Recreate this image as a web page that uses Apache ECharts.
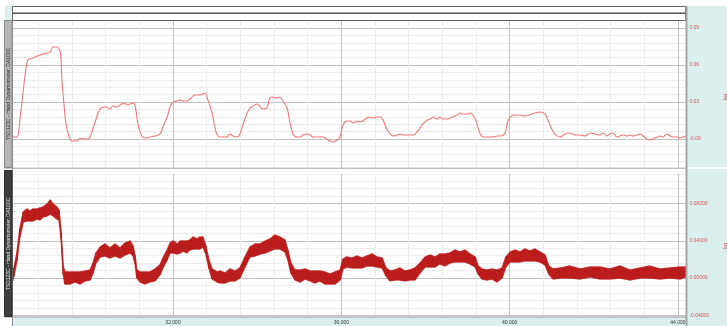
<!DOCTYPE html>
<html>
<head>
<meta charset="utf-8">
<script src="https://cdn.jsdelivr.net/npm/echarts@6/dist/echarts.min.js"></script>
<style>
  html, body { margin: 0; padding: 0; background: #ffffff; }
  #chart { width: 727px; height: 326px; }
</style>
</head>
<body>
<div id="chart"></div>
<script>
// Channel captions and unit
const channelName = 'TSD123C - Hand Dynamometer, DA100C';
const unitName = 'kg';

// Upper channel: smoothed grip force (time in s, value)
const time1 = [28.18,28.29,28.36,28.48,28.55,28.67,28.84,29.01,29.08,29.15,
  29.24,29.32,29.36,29.41,29.46,29.55,29.60,29.72,29.79,29.86,
  29.96,30.03,30.10,30.15,30.22,30.29,30.41,30.50,30.57,30.67,
  30.74,30.84,30.91,30.98,31.05,31.10,31.17,31.26,31.33,31.45,
  31.57,31.69,31.76,31.86,31.93,
  32.00,32.10,32.17,32.24,32.33,32.40,32.52,32.64,32.76,32.83,
  32.93,33.00,33.07,33.19,33.28,33.35,33.43,33.52,33.59,33.66,
  33.76,33.83,33.90,34.00,34.07,34.14,34.23,34.30,34.38,34.47,
  34.54,34.61,34.71,34.78,34.85,34.95,35.02,35.09,35.18,35.26,
  35.33,35.42,35.49,35.56,35.66,35.73,35.80,35.90,35.97,
  36.04,36.13,36.21,36.28,36.37,36.44,36.51,36.61,36.68,36.75,
  36.85,36.92,36.99,37.08,37.16,37.23,37.32,37.39,37.46,37.56,
  37.63,37.70,37.80,37.87,37.94,38.04,38.11,38.18,38.27,38.34,
  38.42,38.51,38.58,38.65,38.75,38.82,38.89,38.99,39.06,39.13,
  39.22,39.29,39.37,39.46,39.53,39.60,39.70,39.77,
  39.89,39.95,40.01,40.13,40.24,40.36,40.48,40.60,40.72,40.84,
  40.91,41.01,41.10,41.20,41.31,41.43,41.55,41.67,41.79,41.91,
  42.03,42.15,42.22,42.31,42.38,42.45,42.55,42.62,42.69,42.79,
  42.86,42.93,43.02,43.10,43.17,43.26,43.33,43.40,43.50,43.57,
  43.64,43.74,43.81,43.88,43.98,44.05,44.12,44.19];
const force1 = [0.0016,0.0016,0.0154,0.0503,0.0641,0.0657,0.0681,0.0697,0.0706,0.0746,
  0.0746,0.0706,0.0478,0.0276,0.0114,0,-0.0016,-0.0016,0.0008,0,
  0,0.0016,0.0089,0.0138,0.0211,0.0251,0.026,0.0243,0.0268,0.026,
  0.0276,0.0292,0.0276,0.0284,0.0292,0.0268,0.0114,0.0024,0.0008,0.0016,
  0.0024,0.0041,0.0097,0.0178,0.026,
  0.03,0.0308,0.0316,0.0308,0.0308,0.0324,0.0357,0.0357,0.0373,0.0316,
  0.0211,0.0089,0.0024,0.0016,0.0016,0.0041,0.0024,0.0016,0.0041,0.0114,
  0.0211,0.0251,0.0268,0.0284,0.026,0.0243,0.0251,0.0333,0.0341,0.0333,
  0.0341,0.0308,0.0251,0.013,0.0041,0.0016,0.0016,0.0032,0.0041,0.0032,
  0.0016,0.0016,0.0016,0.0016,0,-0.0016,-0.0024,-0.0008,0.0016,
  0.0114,0.0146,0.0146,0.013,0.0146,0.0138,0.0146,0.017,0.0178,0.017,
  0.0178,0.0178,0.0154,0.0081,0.0041,0.0024,0.0032,0.0041,0.0032,0.0032,
  0.0032,0.0032,0.0057,0.0089,0.0122,0.0154,0.0162,0.0178,0.0162,0.0178,
  0.0162,0.0162,0.017,0.0178,0.0195,0.0211,0.0203,0.0203,0.0211,0.0195,
  0.013,0.0049,0.0016,0.0016,0.0016,0.0016,0.0024,0.0024,
  0.0049,0.0138,0.0178,0.0195,0.0195,0.0187,0.0195,0.0211,0.0219,0.0203,
  0.0154,0.0073,0.0032,0.0016,0.0041,0.0049,0.0032,0.0032,0.0024,0.0049,
  0.0041,0.0032,0.0049,0.0024,0.0041,0.0049,0.0016,0.0024,0.0032,0.0024,
  0.0032,0.0024,0.0032,0.0041,0.0024,0,-0.0008,0,0.0016,0.0024,
  0.0016,0.0041,0.0024,0.0016,0.0016,0.0008,0.0016,0.0024];

// Lower channel: raw grip signal, drawn as its min/max envelope
const time2 = [28.18,28.22,28.29,28.36,28.44,28.53,28.60,28.67,28.77,28.84,
  28.91,29.01,29.08,29.15,29.24,29.29,29.34,29.39,29.43,29.55,
  29.67,29.79,29.91,30.03,30.10,30.17,30.27,30.38,30.50,30.62,
  30.74,30.86,30.98,31.05,31.10,31.14,31.22,31.33,31.45,31.57,
  31.69,31.76,31.86,31.93,32.00,32.10,32.17,32.24,32.33,32.40,
  32.48,32.57,32.64,32.71,32.78,32.86,32.93,33.05,33.12,33.24,
  33.35,33.47,33.59,33.71,33.83,33.95,34.07,34.19,34.30,34.42,
  34.54,34.66,34.73,34.80,34.90,35.02,35.14,35.26,35.37,35.49,
  35.61,35.73,35.85,35.97,36.04,36.13,36.25,36.37,36.49,36.61,
  36.73,36.85,36.97,37.06,37.16,37.27,37.39,37.51,37.63,37.75,
  37.87,37.99,38.11,38.23,38.34,38.46,38.58,38.70,38.82,38.94,
  39.06,39.18,39.25,39.34,39.46,39.58,39.70,39.82,39.91,40.01,
  40.13,40.24,40.36,40.48,40.60,40.72,40.84,40.93,41.03,41.20,
  41.43,41.67,41.91,42.15,42.38,42.62,42.86,43.10,43.33,43.57,
  43.81,44.05,44.19];
const high2 = [0.0065,0.0108,0.0269,0.0527,0.071,0.0742,0.072,0.0742,0.0742,0.0753,
  0.0763,0.0796,0.0839,0.0796,0.0763,0.0731,0.0495,0.0129,0.0065,0.0065,
  0.0065,0.0065,0.0075,0.0086,0.0161,0.0269,0.0333,0.0366,0.0323,0.0366,
  0.0323,0.0376,0.0398,0.0344,0.0237,0.0086,0.0065,0.0065,0.0065,0.0097,
  0.014,0.0215,0.0301,0.0376,0.0398,0.0366,0.0398,0.0398,0.0398,0.0409,
  0.0441,0.0419,0.0441,0.0441,0.0344,0.0183,0.0097,0.0065,0.0075,0.0054,
  0.0097,0.0075,0.0108,0.0226,0.0333,0.0366,0.0366,0.0398,0.0419,0.0462,
  0.0441,0.0409,0.0301,0.0161,0.0086,0.0086,0.0097,0.0075,0.0075,0.0075,
  0.0065,0.0043,0.0065,0.0086,0.0204,0.0226,0.0215,0.0237,0.0215,0.0237,
  0.0258,0.0226,0.0215,0.0108,0.0075,0.0086,0.0108,0.0075,0.0086,0.0108,
  0.0161,0.0226,0.0247,0.0226,0.0258,0.0258,0.0269,0.0301,0.028,0.0301,
  0.0258,0.0226,0.0129,0.0097,0.0086,0.0097,0.0086,0.0108,0.0226,0.028,
  0.0301,0.028,0.0312,0.029,0.0312,0.028,0.0247,0.0129,0.0097,0.0108,
  0.0129,0.0097,0.0118,0.0118,0.0097,0.0129,0.0086,0.0108,0.0129,0.0097,
  0.0108,0.0118,0.0118];
const low2 = [-0.0043,0.0022,0.0183,0.0441,0.0602,0.0613,0.0613,0.0613,0.0634,0.0624,
  0.0656,0.0667,0.0688,0.0667,0.0634,0.0624,0.043,0.0043,-0.0065,-0.0065,
  -0.0043,-0.0065,-0.0032,-0.0022,0.0054,0.0161,0.0226,0.0237,0.0215,0.0237,
  0.0215,0.0247,0.0269,0.0237,0.0151,0,-0.0043,-0.0065,-0.0043,-0.0032,
  0.0032,0.0108,0.0194,0.0269,0.0269,0.0258,0.0269,0.029,0.0269,0.0301,
  0.0312,0.0312,0.0312,0.0333,0.0258,0.0097,-0.0011,-0.0043,-0.0054,-0.0054,
  -0.0032,-0.0032,0,0.0118,0.0226,0.0237,0.0258,0.0269,0.029,0.0312,
  0.0312,0.028,0.0194,0.0054,-0.0022,-0.0043,-0.0011,-0.0032,-0.0054,-0.0032,
  -0.0065,-0.0065,-0.0065,-0.0022,0.0097,0.0118,0.0108,0.0108,0.0108,0.0129,
  0.0129,0.0118,0.0108,0.0022,-0.0032,-0.0022,-0.0022,-0.0032,-0.0022,-0.0022,
  0.0054,0.0118,0.0118,0.0118,0.0151,0.0129,0.0161,0.0172,0.0172,0.0172,
  0.0151,0.0118,0.0043,-0.0011,-0.0022,-0.0011,-0.0043,0,0.0118,0.0172,
  0.0172,0.0172,0.0183,0.0183,0.0183,0.0172,0.014,0.0043,-0.0011,0,
  0,-0.0011,0.0011,-0.0011,-0.0011,0,-0.0022,0,0,-0.0011,
  0,-0.0011,0.0011];

// Tick labels
const xTickValues = [32, 36, 40, 44];
const xTickLabels = ['32.000', '36.000', '40.000', '44.000'];
const topTickValues = [0, 0.03, 0.06, 0.09];
const topTickLabels = ['-0.00', '0.03', '0.06', '0.09'];
const bottomTickValues = [-0.04, 0, 0.04, 0.08];
const bottomTickLabels = ['-0.04000', '0.00000', '0.04000', '0.08000'];

function pickLabel(values, labels) {
  return function (v) {
    for (let i = 0; i < values.length; i++) {
      if (Math.abs(v - values[i]) < 1e-7) return labels[i];
    }
    return '';
  };
}

const MAJOR = '#c2c2c2';
const MINOR = '#ededed';
const CYAN = '#dcefef';
const GRIP = '#bb1c1c';
const FONT = 'Liberation Sans, Arial, sans-serif';

const chart = echarts.init(document.getElementById('chart'), null, { renderer: 'canvas' });

function xAxisFor(gridIndex, withLabels) {
  return {
    type: 'value', gridIndex: gridIndex,
    min: 28, max: 44.2, interval: 0.8,
    axisLine: { show: false }, axisTick: { show: false },
    splitLine: { show: true, lineStyle: { color: [MAJOR, MINOR, MINOR, MINOR, MINOR], width: 1 } },
    axisLabel: withLabels ? {
      show: true, formatter: pickLabel(xTickValues, xTickLabels),
      fontSize: 5, color: '#333', margin: 4.5, fontFamily: FONT
    } : { show: false }
  };
}

// One envelope segment per pair of neighbouring samples: [t0, lo0, hi0, t1, lo1, hi1]
const gripSegments = [];
for (let i = 0; i < time2.length - 1; i++) {
  gripSegments.push([time2[i], low2[i], high2[i], time2[i + 1], low2[i + 1], high2[i + 1]]);
}

function renderEnvelope(params, api) {
  const a = api.coord([api.value(0), api.value(1)]);
  const b = api.coord([api.value(0), api.value(2)]);
  const c = api.coord([api.value(3), api.value(5)]);
  const d = api.coord([api.value(3), api.value(4)]);
  return {
    type: 'polygon',
    shape: { points: [a, b, c, d] },
    style: { fill: GRIP, stroke: GRIP, lineWidth: 0.8, lineJoin: 'round' }
  };
}

const edgeLine = (values) => ({
  type: 'line', xAxisIndex: 1, yAxisIndex: 1,
  data: time2.map((t, i) => [t, values[i]]),
  symbol: 'none', silent: true,
  lineStyle: { color: 'rgba(205,60,60,0.55)', width: 1.6 }, z: 2
});

chart.setOption({
  animation: false,
  backgroundColor: '#ffffff',
  grid: [
    { left: 4.7, right: 40.6, top: 20.6, height: 148 },
    { left: 4.7, right: 40.6, top: 173.8, height: 141.4 }
  ],
  xAxis: [xAxisFor(0, false), xAxisFor(1, true)],
  yAxis: [
    {
      type: 'value', gridIndex: 0, position: 'right',
      min: -0.024, max: 0.096, interval: 0.006,
      axisLine: { show: false }, axisTick: { show: false },
      splitLine: { show: true, lineStyle: { color: [MINOR, MINOR, MINOR, MINOR, MAJOR] } },
      axisLabel: { formatter: pickLabel(topTickValues, topTickLabels), color: '#e05050',
        fontSize: 5, margin: 3, fontFamily: FONT }
    },
    {
      type: 'value', gridIndex: 1, position: 'right',
      min: -0.04, max: 0.112, interval: 0.008,
      axisLine: { show: false }, axisTick: { show: false },
      splitLine: { show: true, lineStyle: { color: [MAJOR, MINOR, MINOR, MINOR, MINOR] } },
      axisLabel: { formatter: pickLabel(bottomTickValues, bottomTickLabels), color: '#e05050',
        fontSize: 5, margin: 3, fontFamily: FONT }
    }
  ],
  series: [
    {
      type: 'line', xAxisIndex: 0, yAxisIndex: 0,
      data: time1.map((t, i) => [t, force1[i]]),
      showSymbol: false, symbol: 'none', smooth: 0.35,
      lineStyle: { color: '#f87474', width: 1.1 }, z: 3
    },
    edgeLine(high2),
    edgeLine(low2),
    {
      type: 'custom', xAxisIndex: 1, yAxisIndex: 1,
      data: gripSegments,
      encode: { x: [0, 3], y: [1, 2, 4, 5] },
      renderItem: renderEnvelope, z: 3
    }
  ],
  graphic: [
    // right-hand axis area and bottom time strip
    { type: 'rect', z: -10, shape: { x: 686, y: 6, width: 41, height: 161 }, style: { fill: CYAN } },
    { type: 'rect', z: -10, shape: { x: 686, y: 169, width: 41, height: 157 }, style: { fill: CYAN } },
    { type: 'rect', z: -10, shape: { x: 12, y: 317, width: 674, height: 9 }, style: { fill: CYAN } },
    { type: 'rect', z: -10, shape: { x: 5, y: 6, width: 7, height: 14 }, style: { fill: CYAN } },
    // header strip
    { type: 'rect', z: 20, shape: { x: 12.5, y: 6.5, width: 673, height: 14 },
      style: { fill: '#ffffff', stroke: '#666666', lineWidth: 1 } },
    { type: 'line', z: 21, shape: { x1: 12.5, y1: 13.3, x2: 685.5, y2: 13.3 },
      style: { stroke: '#555555', lineWidth: 1.6 } },
    // panel frames
    { type: 'line', z: 20, shape: { x1: 12.5, y1: 20, x2: 12.5, y2: 326 }, style: { stroke: '#8a8a8a', lineWidth: 1 } },
    { type: 'line', z: 20, shape: { x1: 686.5, y1: 6, x2: 686.5, y2: 326 }, style: { stroke: '#a6a6a6', lineWidth: 2 } },
    { type: 'line', z: 20, shape: { x1: 5, y1: 168.2, x2: 686, y2: 168.2 }, style: { stroke: '#a8a8a8', lineWidth: 1 } },
    { type: 'line', z: 20, shape: { x1: 5, y1: 317, x2: 686, y2: 317 }, style: { stroke: '#9a9a9a', lineWidth: 1.2 } },
    // channel caption bars
    { type: 'rect', z: 30, shape: { x: 4.5, y: 20.5, width: 7.5, height: 147 },
      style: { fill: '#b6b6b6', stroke: '#8c8c8c', lineWidth: 1 } },
    { type: 'text', z: 31, x: 8.6, y: 94, rotation: Math.PI / 2,
      style: { text: channelName, fill: '#2a2a2a', font: '5px ' + FONT, align: 'center', verticalAlign: 'middle' } },
    { type: 'rect', z: 30, shape: { x: 4.5, y: 170.5, width: 7.5, height: 146 },
      style: { fill: '#3e3e3e', stroke: '#2e2e2e', lineWidth: 1 } },
    { type: 'text', z: 31, x: 8.6, y: 244, rotation: Math.PI / 2,
      style: { text: channelName, fill: '#e8e8e8', font: '5px ' + FONT, align: 'center', verticalAlign: 'middle' } },
    // unit captions on the far right
    { type: 'text', z: 31, x: 725, y: 97, rotation: Math.PI / 2,
      style: { text: unitName, fill: '#d84a4a', font: '6px ' + FONT, align: 'center', verticalAlign: 'middle' } },
    { type: 'text', z: 31, x: 725, y: 246, rotation: Math.PI / 2,
      style: { text: unitName, fill: '#d84a4a', font: '6px ' + FONT, align: 'center', verticalAlign: 'middle' } }
  ]
});
</script>
</body>
</html>
